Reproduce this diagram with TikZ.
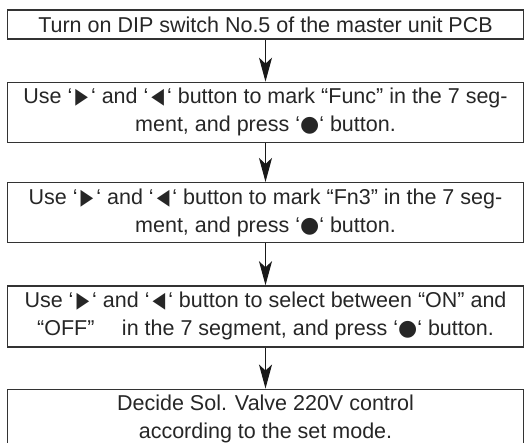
\documentclass[tikz,border=0pt]{standalone}
\usepackage{fontspec}
\setmainfont{Liberation Sans}
\newfontfamily\symfont{DejaVu Sans}
\usepackage{xcolor}
\usetikzlibrary{arrows.meta, positioning}

\newcommand{\rtri}{\kern3pt\scalebox{0.75}[1]{\symfont\fontsize{22}{22}\selectfont ▶}\kern3pt}
\newcommand{\ltri}{\kern3pt\scalebox{0.75}[1]{\symfont\fontsize{22}{22}\selectfont ◀}\kern3pt}
\newcommand{\okdot}{{\symfont\fontsize{22}{22}\selectfont ●}}

\begin{document}
\begin{tikzpicture}[
    x=1pt, y=1pt,
    stepbox/.style={rectangle, draw=black!80, line width=1.3pt,
                    minimum width=516pt, minimum height=60pt,
                    inner sep=0pt, align=center, text=black!85,
                    font=\fontsize{21.5}{28}\selectfont},
    arr/.style={-{Stealth[length=24pt, width=13pt, inset=6pt]},
                line width=1.2pt, color=black!90}
]
\useasboundingbox (0,0) rectangle (524,-442);

\node[stepbox, minimum height=29pt] (dipsw) at (265.5,-24.5)
    {Turn on DIP switch No.5 of the master unit PCB};

\node[stepbox, below=42pt of dipsw] (func)
    {Use ‘\rtri‘ and ‘\ltri‘ button to mark “Func” in the 7 seg-\\
     ment, and press ‘\okdot‘ button.};

\node[stepbox, below=39pt of func] (fnthree)
    {Use ‘\rtri‘ and ‘\ltri‘ button to mark “Fn3” in the 7 seg-\\
     ment, and press ‘\okdot‘ button.};

\node[stepbox, below=42pt of fnthree, minimum height=61pt] (onoff)
    {Use ‘\rtri‘ and ‘\ltri‘ button to select between “ON” and\\
     “OFF”\quad\ in the 7 segment, and press ‘\okdot‘ button.};

\node[stepbox, below=41pt of onoff] (decide)
    {Decide Sol. Valve 220V control\\
     according to the set mode.};

\draw[arr] (dipsw)   -- (func);
\draw[arr] (func)    -- (fnthree);
\draw[arr] (fnthree) -- (onoff);
\draw[arr] (onoff)   -- (decide);

\end{tikzpicture}
\end{document}
